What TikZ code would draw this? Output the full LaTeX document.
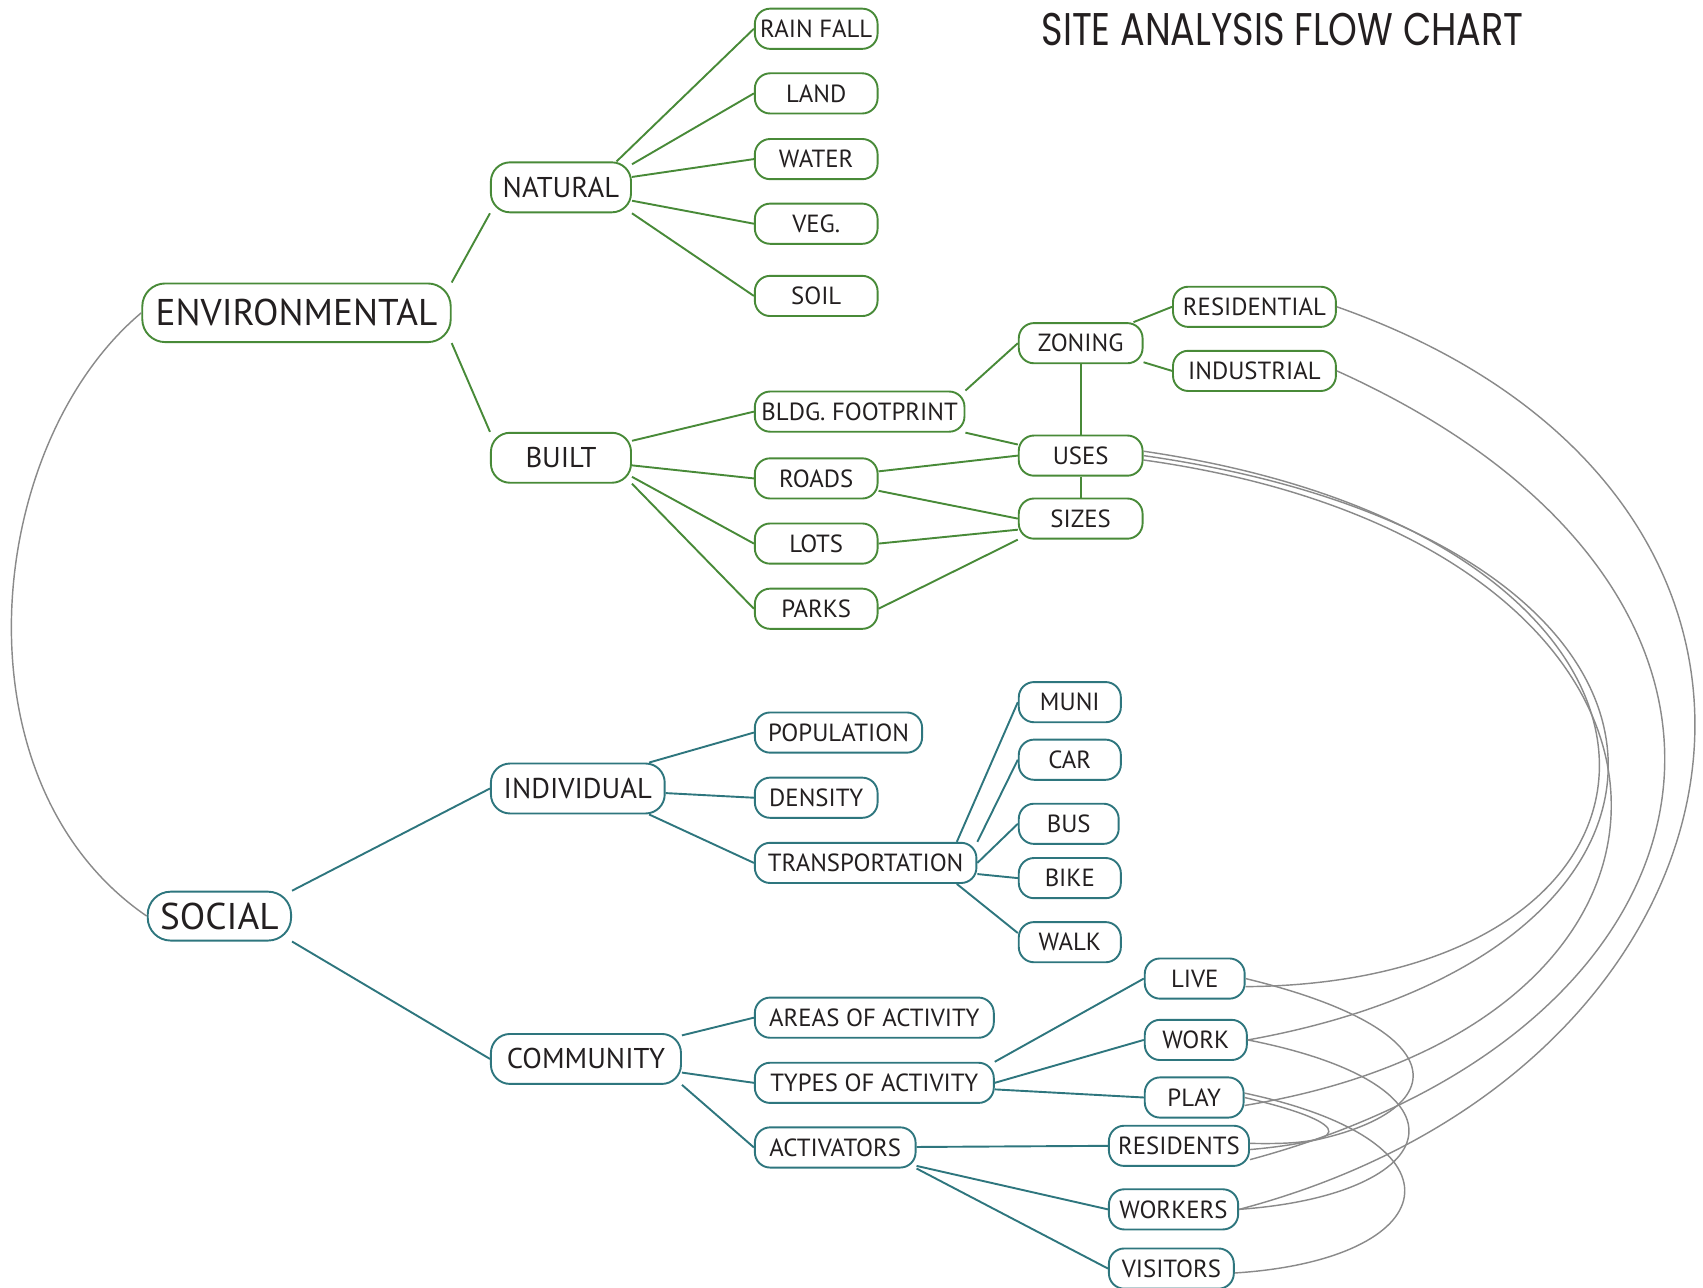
\documentclass[tikz,border=0pt]{standalone}
\usepackage{fontspec}
\setmainfont{PT Sans}
\newfontfamily\titlefont[FakeStretch=0.8]{Poppins}

\definecolor{envgreen}{RGB}{72,138,56}
\definecolor{socteal}{RGB}{46,118,126}
\definecolor{linkgray}{RGB}{138,138,138}
\definecolor{txt}{RGB}{35,31,32}

\tikzset{
    box/.style={draw, rounded corners=8pt, line width=1pt, fill=white, text=txt,
        minimum height=0.74cm, inner xsep=2pt, inner ysep=0pt,
        font=\fontsize{13}{15}\selectfont},
    envbox/.style={box, draw=envgreen},
    socbox/.style={box, draw=socteal},
    groupbox/.style={minimum height=0.92cm, rounded corners=10pt, font=\fontsize{15}{18}\selectfont},
    rootbox/.style={minimum height=1.08cm, rounded corners=12pt, font=\fontsize{19.5}{22}\selectfont},
    glink/.style={draw=envgreen, line width=1pt},
    tlink/.style={draw=socteal, line width=1pt},
    crosslink/.style={draw=linkgray, line width=0.75pt}
}

\begin{document}
\begin{tikzpicture}
\useasboundingbox (0,0) rectangle (31.36,23.70);

% Title
\node[font=\titlefont\fontsize{24}{28}\selectfont, text=txt] (title) at (23.62,23.16) {SITE ANALYSIS FLOW CHART};

% Environmental
\node[envbox, rootbox, minimum width=5.68cm] (environmental) at (5.46,17.94) {ENVIRONMENTAL};
\node[envbox, groupbox, minimum width=2.58cm] (natural) at (10.33,20.25) {NATURAL};
\node[envbox, groupbox, minimum width=2.58cm] (built) at (10.33,15.27) {BUILT};

\node[envbox, minimum width=2.26cm] (rainfall) at (15.03,23.17) {RAIN FALL};
\node[envbox, minimum width=2.26cm] (land) at (15.03,21.98) {LAND};
\node[envbox, minimum width=2.26cm] (water) at (15.03,20.77) {WATER};
\node[envbox, minimum width=2.26cm] (veg) at (15.03,19.58) {VEG.};
\node[envbox, minimum width=2.26cm] (soil) at (15.03,18.25) {SOIL};

\node[envbox, minimum width=3.86cm] (footprint) at (15.83,16.12) {BLDG. FOOTPRINT};
\node[envbox, minimum width=2.26cm] (roads) at (15.03,14.89) {ROADS};
\node[envbox, minimum width=2.26cm] (lots) at (15.03,13.69) {LOTS};
\node[envbox, minimum width=2.26cm] (parks) at (15.03,12.49) {PARKS};

\node[envbox, minimum width=2.28cm] (zoning) at (19.90,17.38) {ZONING};
\node[envbox, minimum width=2.28cm] (uses) at (19.90,15.31) {USES};
\node[envbox, minimum width=2.28cm] (sizes) at (19.90,14.15) {SIZES};
\node[envbox, minimum width=3.0cm] (residential) at (23.10,18.05) {RESIDENTIAL};
\node[envbox, minimum width=3.0cm] (industrial) at (23.10,16.87) {INDUSTRIAL};

% Social
\node[socbox, rootbox, minimum width=2.64cm, minimum height=0.9cm] (social) at (4.04,6.83) {SOCIAL};
\node[socbox, groupbox, minimum width=3.2cm] (individual) at (10.64,9.18) {INDIVIDUAL};
\node[socbox, groupbox, minimum width=3.5cm] (community) at (10.79,4.20) {COMMUNITY};

\node[socbox, minimum width=3.08cm] (population) at (15.44,10.21) {POPULATION};
\node[socbox, minimum width=2.26cm] (density) at (15.03,9.01) {DENSITY};
\node[socbox, minimum width=4.08cm] (transportation) at (15.94,7.81) {TRANSPORTATION};

\node[socbox, minimum width=1.88cm] (muni) at (19.70,10.77) {MUNI};
\node[socbox, minimum width=1.88cm] (car) at (19.70,9.71) {CAR};
\node[socbox, minimum width=1.84cm] (bus) at (19.68,8.53) {BUS};
\node[socbox, minimum width=1.88cm] (bike) at (19.70,7.53) {BIKE};
\node[socbox, minimum width=1.88cm] (walk) at (19.70,6.35) {WALK};

\node[socbox, minimum width=4.4cm] (areas) at (16.10,4.96) {AREAS OF ACTIVITY};
\node[socbox, minimum width=4.4cm] (types) at (16.10,3.76) {TYPES OF ACTIVITY};
\node[socbox, minimum width=2.96cm] (activators) at (15.38,2.57) {ACTIVATORS};

\node[socbox, minimum width=1.84cm] (live) at (22.00,5.68) {LIVE};
\node[socbox, minimum width=1.88cm] (work) at (22.02,4.55) {WORK};
\node[socbox, minimum width=1.82cm] (play) at (21.99,3.49) {PLAY};
\node[socbox, minimum width=2.58cm] (residents) at (21.71,2.60) {RESIDENTS};
\node[socbox, minimum width=2.38cm] (workers) at (21.61,1.43) {WORKERS};
\node[socbox, minimum width=2.30cm] (visitors) at (21.57,0.34) {VISITORS};

% Environmental links
\draw[glink] (environmental.north east) -- (natural.south west);
\draw[glink] (environmental.south east) -- (built.north west);
\draw[glink] (natural.25) -- (rainfall.west);
\draw[glink] (natural.18) -- (land.west);
\draw[glink] (natural) -- (water.west);
\draw[glink] (natural) -- (veg.west);
\draw[glink] (natural.south east) -- (soil.west);
\draw[glink] (built) -- (footprint.west);
\draw[glink] (built) -- (roads.west);
\draw[glink] (built.-15) -- (lots.west);
\draw[glink] (built.south east) -- (parks.west);
\draw[glink] (footprint.north east) -- (zoning.west);
\draw[glink] (footprint.south east) -- (uses.170);
\draw[glink] (roads) -- (uses.west);
\draw[glink] (roads) -- (sizes.west);
\draw[glink] (lots.east) -- (sizes.190);
\draw[glink] (parks.east) -- (sizes.south west);
\draw[glink] (zoning.south) -- (uses.north);
\draw[glink] (uses) -- (sizes);
\draw[glink] (zoning) -- (residential.west);
\draw[glink] (zoning) -- (industrial.west);

% Social links
\draw[tlink] (social.north east) -- (individual.west);
\draw[tlink] (social.south east) -- (community.west);
\draw[tlink] (individual.20) -- (population.west);
\draw[tlink] (individual) -- (density.west);
\draw[tlink] (individual.-20) -- (transportation.west);
\draw[tlink] (transportation.13) -- (muni.west);
\draw[tlink] (transportation.north east) -- (car.west);
\draw[tlink] (transportation.east) -- (bus.west);
\draw[tlink] (transportation) -- (bike.west);
\draw[tlink] (transportation.-13) -- (walk.170);
\draw[tlink] (community) -- (areas.west);
\draw[tlink] (community) -- (types.west);
\draw[tlink] (community.south east) -- (activators.west);
\draw[tlink] (types.north east) -- (live.west);
\draw[tlink] (types.east) -- (work.west);
\draw[tlink] (types) -- (play.west);
\draw[tlink] (activators) -- (residents.west);
\draw[tlink] (activators) -- (workers.west);
\draw[tlink] (activators.south east) -- (visitors.west);

% Cross links
\draw[crosslink] (environmental.west) .. controls (-0.30,15.50) and (-0.90,9.30) .. (social.west);
\draw[crosslink] (residential.east) .. controls (34.60,14.54) and (32.64,4.02) .. (workers.east);
\draw[crosslink] (industrial.east) .. controls (33.60,12.82) and (32.14,4.80) .. (residents.-11);
\draw[crosslink] (uses.4) .. controls (32.04,13.78) and (31.80,5.60) .. (live.-9);
\draw[crosslink] (uses.east) .. controls (32.04,13.74) and (32.20,6.20) .. (work.east);
\draw[crosslink] (uses.-4) .. controls (32.00,13.70) and (32.40,4.90) .. (play.-9);
\draw[crosslink] (live.east) .. controls (27.40,4.60) and (26.66,2.84) .. (residents.-3);
\draw[crosslink] (work.east) .. controls (27.30,3.70) and (26.60,1.70) .. (workers.east);
\draw[crosslink] (play.5) .. controls (27.20,2.66) and (26.54,0.50) .. (visitors.-4);
\draw[crosslink] (play.east) .. controls (25.10,2.98) and (24.84,2.60) .. (residents.2);
\end{tikzpicture}
\end{document}
